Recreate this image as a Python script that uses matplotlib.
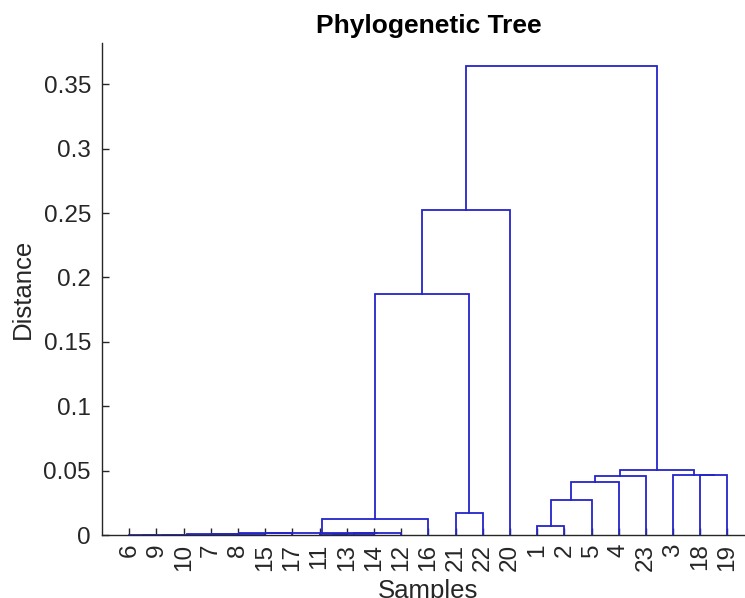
import matplotlib
import numpy as np

matplotlib.use("Agg")
import matplotlib.pyplot as plt  # noqa: E402

# ----------------------------------------------------------------------------
# Data
# ----------------------------------------------------------------------------
# leaf labels in the order they appear along the x axis
leaf_order = [6, 9, 10, 7, 8, 15, 17, 11, 13, 14, 12, 16, 21, 22, 20,
              1, 2, 5, 4, 23, 3, 18, 19]

# merges: (left child, right child, height); ints are leaves, "cN" is merge N
merge_left = [6, "c0", "c1", "c2", "c3", "c4", 11, "c6", "c7", "c5", "c9",
              21, "c10", "c12", 1, "c14", "c15", "c16", 18, 3, "c17", "c13"]
merge_right = [9, 10, 7, 8, 15, 17, 13, 14, 12, "c8", 16,
               22, "c11", 20, 2, 5, 4, 23, 19, "c18", "c19", "c20"]
merge_height = [0.0002, 0.0003, 0.0004, 0.0006, 0.0012, 0.0016,
                0.0010, 0.0013, 0.0018, 0.0021, 0.0124,
                0.0170, 0.1870, 0.2525,
                0.0070, 0.0272, 0.0415, 0.0463, 0.0465, 0.0471, 0.0506,
                0.3637]

y_ticks = [0, 0.05, 0.1, 0.15, 0.2, 0.25, 0.3, 0.35]
y_tick_labels = ["0", "0.05", "0.1", "0.15", "0.2", "0.25", "0.3", "0.35"]

LINE_COLOR = "#2424cc"
AXIS_COLOR = "#262626"

plt.rcParams["font.family"] = ["Liberation Sans", "DejaVu Sans"]

# ----------------------------------------------------------------------------
# Layout of the tree: leaf x from the order, cluster x = mean of children
# ----------------------------------------------------------------------------
pos = {leaf: i + 1 for i, leaf in enumerate(leaf_order)}
hgt = {leaf: 0.0 for leaf in leaf_order}

fig = plt.figure(figsize=(7.45, 5.98), dpi=100)
ax = fig.add_axes([0.137, 0.105, 0.876, 0.823])

for k, (a, b, h) in enumerate(zip(merge_left, merge_right, merge_height)):
    xa, xb = pos[a], pos[b]
    ax.plot([xa, xa, xb, xb], [hgt[a], h, h, hgt[b]],
            color=LINE_COLOR, lw=1.3, solid_joinstyle="miter", clip_on=False)
    pos[f"c{k}"] = 0.5 * (xa + xb)
    hgt[f"c{k}"] = h

ax.set_xlim(0, len(leaf_order) + 1)
ax.set_ylim(0, max(merge_height) * 1.05)

ax.set_xticks(np.arange(1, len(leaf_order) + 1))
ax.set_xticklabels([str(v) for v in leaf_order], rotation=90, fontsize=17.5,
                   color=AXIS_COLOR)
ax.set_yticks(y_ticks)
ax.set_yticklabels(y_tick_labels, fontsize=17.5, color=AXIS_COLOR)
ax.tick_params(direction="in", length=5, width=1.0, color=AXIS_COLOR)
ax.tick_params(axis="x", pad=6)
ax.tick_params(axis="y", pad=8)

for side in ("top", "right"):
    ax.spines[side].set_visible(False)
for side in ("left", "bottom"):
    ax.spines[side].set_color(AXIS_COLOR)
    ax.spines[side].set_linewidth(1.0)

ax.set_title("Phylogenetic Tree", fontsize=19, fontweight="bold", pad=7)
ax.set_xlabel("Samples", fontsize=18.5, color=AXIS_COLOR, labelpad=6)
ax.set_ylabel("Distance", fontsize=18.5, color=AXIS_COLOR, labelpad=6)

fig.savefig("out.png", dpi=100)
plt.close(fig)
